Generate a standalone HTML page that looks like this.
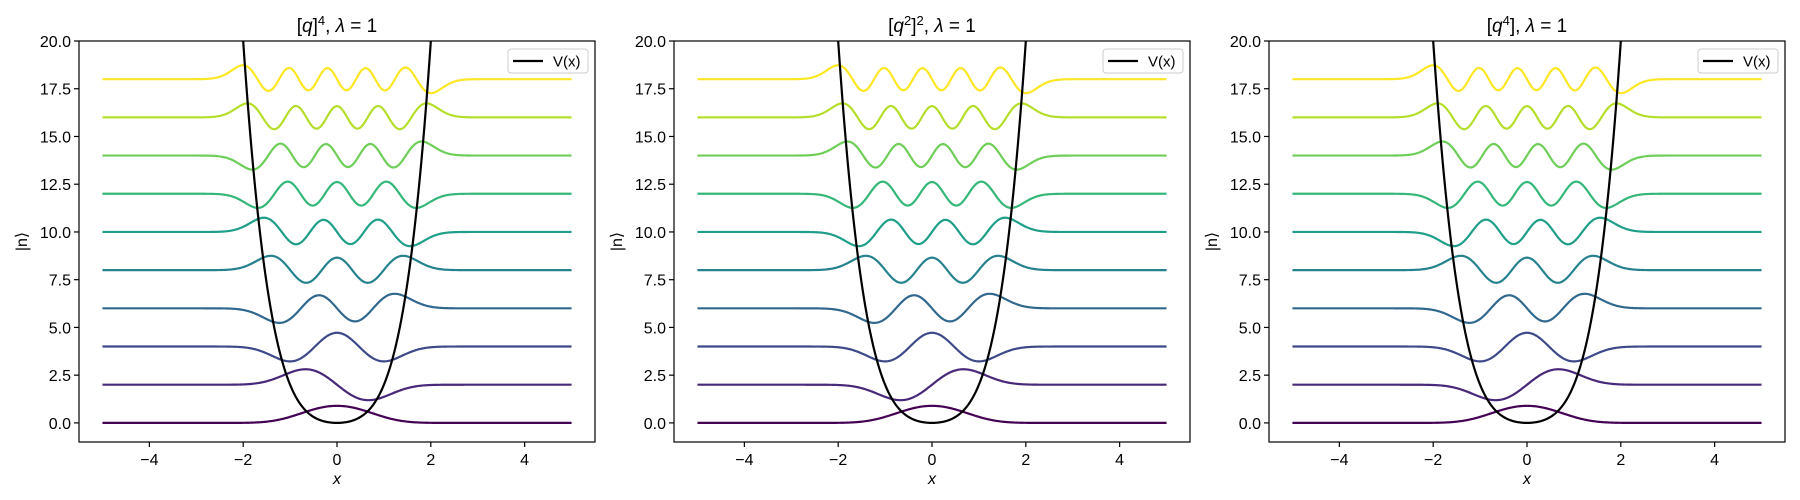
<!DOCTYPE html>
<html><head><meta charset="utf-8"><style>
html,body{margin:0;padding:0;background:#fff;}
svg{display:block;font-family:"Liberation Sans","DejaVu Sans",sans-serif;}
</style></head><body>
<svg id="chart" width="1800" height="500" xmlns="http://www.w3.org/2000/svg"></svg>
<script>
// ---- data ----
const levels = [0,1,2,3,4,5,6,7,8,9];
const offsets = [0,2,4,6,8,10,12,14,16,18];
const lambdas = [1,1,1];
const panelTitles = ['[q]<tspan baseline-shift="super" font-size="13">4</tspan>, <tspan font-style="italic">λ</tspan> = 1','[q<tspan baseline-shift="super" font-size="13">2</tspan>]<tspan baseline-shift="super" font-size="13">2</tspan>, <tspan font-style="italic">λ</tspan> = 1','[q<tspan baseline-shift="super" font-size="13">4</tspan>], <tspan font-style="italic">λ</tspan> = 1'];
const signsP1 = [1,1,-1,-1,1,1,-1,-1,1,1];
const signsP2 = [1,-1,-1,-1,1,-1,-1,1,1,1];
const signsP3 = [1,-1,-1,-1,1,-1,-1,1,1,1];
const xTicks = [-4,-2,0,2,4];
const yTicks = [0,2.5,5,7.5,10,12.5,15,17.5,20];
const colors = ['#440154','#482878','#3e4989','#31688e','#26828e','#1f9e89','#35b779','#6ece58','#b5de2b','#fde725'];

const NS='http://www.w3.org/2000/svg';
const svg=document.getElementById('chart');
function mk(tag,attrs,parent){const e=document.createElementNS(NS,tag);for(const k in attrs)e.setAttribute(k,attrs[k]);(parent||svg).appendChild(e);return e;}

// eigen-solver for -1/2 psi'' + (x^2 + lam x^4) psi
function solve(lam,nStates){
  const N=501,x0=-5,h=10/(N-1);
  const xs=[],V=[];
  for(let i=0;i<N;i++){const x=x0+i*h;xs.push(x);V.push(x*x+lam*x*x*x*x);}
  const d=V.map(v=>1/(h*h)+v), e=-1/(2*h*h);
  function count(l){let c=0,q=d[0]-l;if(q<0)c++;for(let i=1;i<N;i++){q=d[i]-l-(e*e)/(q===0?1e-12:q);if(q<0)c++;}return c;}
  const res=[];
  for(let k=0;k<nStates;k++){
    let lo=0,hi=200;
    for(let it=0;it<80;it++){const m=(lo+hi)/2;if(count(m)>k)hi=m;else lo=m;}
    const E=(lo+hi)/2+1e-7;
    let v=new Array(N).fill(1);
    for(let it=0;it<4;it++){
      const a=new Array(N),b=new Array(N);
      let c0=d[0]-E;a[0]=e/c0;b[0]=v[0]/c0;
      for(let i=1;i<N;i++){const den=(d[i]-E)-e*a[i-1];a[i]=e/den;b[i]=(v[i]-e*b[i-1])/den;}
      const y=new Array(N);y[N-1]=b[N-1];
      for(let i=N-2;i>=0;i--)y[i]=b[i]-a[i]*y[i+1];
      let s=0;for(const t of y)s+=t*t;s=Math.sqrt(s*h);
      v=y.map(t=>t/s);
    }
    res.push({xs,psi:v});
  }
  return res;
}

const panels=[{L:79,R:595,signs:signsP1},{L:674,R:1190,signs:signsP2},{L:1269,R:1785,signs:signsP3}];
const T=41,B=442,xmin=-5.5,xmax=5.5,ymin=-1,ymax=20;

panels.forEach((p,pi)=>{
  const g=mk('g',{});
  
  
  const sx=x=>p.L+(x-xmin)/(xmax-xmin)*(p.R-p.L);
  const sy=y=>B-(y-ymin)/(ymax-ymin)*(B-T);
  const cid='clip'+pi;
  const cp=mk('clipPath',{id:cid},g);mk('rect',{x:p.L,y:T,width:p.R-p.L,height:B-T},cp);
  const lam=lambdas[pi];
  const states=solve(lam,levels.length);
  levels.forEach((n,i)=>{
    const st=states[n];let psi=st.psi.slice();
    let mx=0;for(const t of psi)mx=Math.max(mx,Math.abs(t));
    let first=psi.find(t=>Math.abs(t)>0.1*mx);
    if(Math.sign(first)!==p.signs[i])psi=psi.map(t=>-t);
    let dstr='';
    st.xs.forEach((x,j)=>{dstr+=(j?'L':'M')+sx(x).toFixed(2)+','+sy(psi[j]+offsets[i]).toFixed(2);});
    const path=mk('path',{d:dstr,fill:'none',stroke:colors[i],'stroke-width':2.2,'clip-path':'url(#'+cid+')'},g);
    
    
  });
  // potential
  let pd='';
  for(let j=0;j<=1000;j++){const x=-5+j*0.01;const v=Math.min(x*x+lam*x*x*x*x,60);pd+=(j?'L':'M')+sx(x).toFixed(2)+','+sy(v).toFixed(2);}
  const pot=mk('path',{d:pd,fill:'none',stroke:'#000','stroke-width':2.2,'clip-path':'url(#'+cid+')'},g);
  
  
  // frame
  const fr=mk('rect',{x:p.L,y:T,width:p.R-p.L,height:B-T,fill:'none',stroke:'#000','stroke-width':1.2},g);
  
  
  xTicks.forEach(t=>{
    const X=sx(t);
    mk('line',{x1:X,y1:B,x2:X,y2:B+5,stroke:'#000','stroke-width':1.2},g);
    const tx=mk('text',{x:X,y:B+23,'text-anchor':'middle','font-size':16,fill:'#000'},g);
    tx.textContent=(t<0?'−':'')+Math.abs(t);
    
    
  });
  yTicks.forEach(t=>{
    const Y=sy(t);
    mk('line',{x1:p.L-5,y1:Y,x2:p.L,y2:Y,stroke:'#000','stroke-width':1.2},g);
    const tx=mk('text',{x:p.L-8,y:Y+6,'text-anchor':'end','font-size':16,fill:'#000'},g);
    tx.textContent=t.toFixed(1);
    
    
  });
  const xl=mk('text',{x:(p.L+p.R)/2,y:484,'text-anchor':'middle','font-size':16,'font-style':'italic',fill:'#000'},g);
  xl.textContent='x';
  
  
  const yl=mk('text',{x:0,y:0,'text-anchor':'middle','font-size':16,fill:'#000',transform:'translate('+(p.L-52)+','+((T+B)/2)+') rotate(-90)'},g);
  yl.textContent='|n⟩';
  
  
  const ti=mk('text',{x:(p.L+p.R)/2,y:32,'text-anchor':'middle','font-size':19,fill:'#000'},g);
  ti.innerHTML=panelTitles[pi].replace(/q/g,'<tspan font-style="italic">q</tspan>');
  
  
  // legend
  const lg=mk('g',{},g);
  
  
  mk('rect',{x:p.R-87,y:49,width:80,height:24,rx:3,fill:'#fff','fill-opacity':0.8,stroke:'#ccc','stroke-width':1},lg);
  mk('line',{x1:p.R-82,y1:61,x2:p.R-52,y2:61,stroke:'#000','stroke-width':2.2},lg);
  const lt=mk('text',{x:p.R-42,y:66.5,'font-size':15,fill:'#000'},lg);
  lt.textContent='V(x)';
  
  
});
</script>
</body></html>
